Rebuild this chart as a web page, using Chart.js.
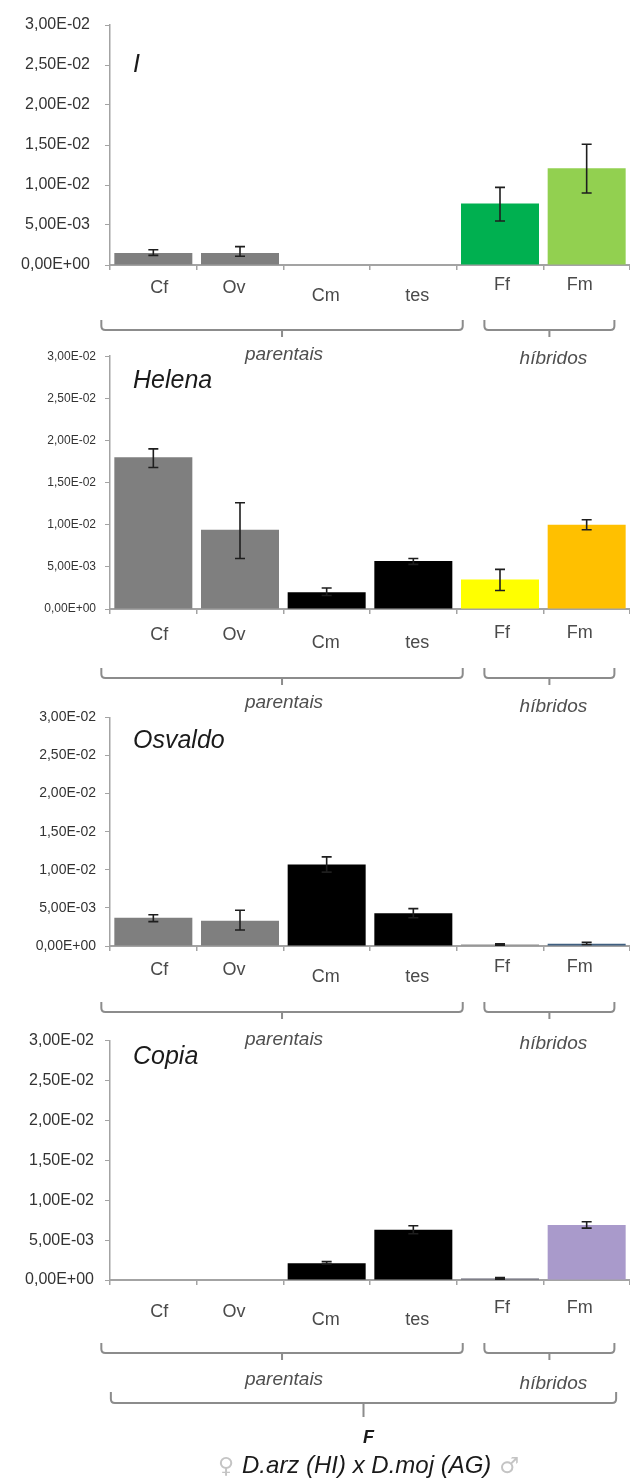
<!DOCTYPE html>
<html>
<head>
<meta charset="utf-8">
<script src="https://cdn.jsdelivr.net/npm/chart.js@4.4.1/dist/chart.umd.min.js"></script>
<style>
  html, body { margin: 0; padding: 0; background: #ffffff; }
  #page { position: relative; width: 630px; height: 1479px; overflow: hidden; background: #ffffff; }
  #page canvas { position: absolute; left: 0; }
</style>
</head>
<body>
<div id="page">
  <canvas id="c1" width="630" height="375" style="top:0px"></canvas>
  <canvas id="c2" width="630" height="380" style="top:340px"></canvas>
  <canvas id="c3" width="630" height="360" style="top:700px"></canvas>
  <canvas id="c4" width="630" height="459" style="top:1020px"></canvas>
</div>
<script>
// Tissues: parental ovary/carcass (Cf, Ov), male carcass/testis (Cm, tes), hybrid females/males (Ff, Fm)
const categories = ['Cf', 'Ov', 'Cm', 'tes', 'Ff', 'Fm'];
const groupLabels = ['parentais', 'híbridos'];
const yTickLabels = ['0,00E+00', '5,00E-03', '1,00E-02', '1,50E-02', '2,00E-02', '2,50E-02', '3,00E-02'];
const crossLabel = 'D.arz (HI) x D.moj (AG)';
const crossTitle = 'F';

// Element I
const iValues   = [0.0015, 0.0015, 0, 0, 0.0077, 0.0121];
const iErrLow   = [0.0012, 0.0011, null, null, 0.0055, 0.0090];
const iErrHigh  = [0.0019, 0.0023, null, null, 0.0097, 0.0151];

// Helena
const helenaValues  = [0.0180, 0.0094, 0.0020, 0.0057, 0.0035, 0.0100];
const helenaErrLow  = [0.0168, 0.0060, 0.0016, 0.0053, 0.0022, 0.0094];
const helenaErrHigh = [0.0190, 0.0126, 0.0025, 0.0060, 0.0047, 0.0106];

// Osvaldo
const osvaldoValues  = [0.0037, 0.0033, 0.0107, 0.0043, 0.0002, 0.0003];
const osvaldoErrLow  = [0.0032, 0.0021, 0.0097, 0.0037, 0.0001, 0.0002];
const osvaldoErrHigh = [0.0041, 0.0047, 0.0117, 0.0049, 0.0003, 0.0005];

// Copia
const copiaValues  = [0, 0, 0.0021, 0.0063, 0.0002, 0.0069];
const copiaErrLow  = [null, null, 0.0020, 0.0058, 0.0001, 0.0065];
const copiaErrHigh = [null, null, 0.0023, 0.0068, 0.0003, 0.0073];

const iColors       = ['#7f7f7f', '#7f7f7f', '#000000', '#000000', '#00b050', '#92d050'];
const helenaColors  = ['#7f7f7f', '#7f7f7f', '#000000', '#000000', '#ffff00', '#ffc000'];
const osvaldoColors = ['#7f7f7f', '#7f7f7f', '#000000', '#000000', '#8c8c8c', '#3f5f80'];
const copiaColors   = ['#7f7f7f', '#7f7f7f', '#000000', '#000000', '#5c5c6c', '#a99acb'];

// Panel layout (canvas offsets in page pixels)
const panels = [
  { id: 'c1', top: 0,    height: 375, areaTop: 25,   zero: 265,  title: 'I',       titleBase: 72,
    values: iValues, low: iErrLow, high: iErrHigh, colors: iColors,
    tickFont: 16, tickPad: 15, labelDy: [23, 23, 31, 31, 20, 20], braceDy: 65, groupDy: 90 },
  { id: 'c2', top: 340,  height: 380, areaTop: 355,  zero: 609,  title: 'Helena',  titleBase: 388,
    values: helenaValues, low: helenaErrLow, high: helenaErrHigh, colors: helenaColors,
    tickFont: 12, tickPad: 9, labelDy: [26, 26, 34, 34, 24, 24], braceDy: 69, groupDy: 94 },
  { id: 'c3', top: 700,  height: 360, areaTop: 713,  zero: 946,  title: 'Osvaldo', titleBase: 748,
    values: osvaldoValues, low: osvaldoErrLow, high: osvaldoErrHigh, colors: osvaldoColors,
    tickFont: 14, tickPad: 9, labelDy: [24, 24, 31, 31, 21, 21], braceDy: 66, groupDy: 94 },
  { id: 'c4', top: 1020, height: 459, areaTop: 1034, zero: 1280, title: 'Copia',   titleBase: 1064,
    values: copiaValues, low: copiaErrLow, high: copiaErrHigh, colors: copiaColors,
    tickFont: 16, tickPad: 11, labelDy: [32, 32, 40, 40, 28, 28], braceDy: 73, groupDy: 100, footer: true }
];

const SANS = '"Liberation Sans", Arial, "DejaVu Sans", sans-serif';
const AXIS_GRAY = '#a3a3a3';
const BRACE_GRAY = '#8c8c8c';
const X_AXIS_H = 6;
const Y_AXIS_W = 110;
const labelDx = [6, -6, -1, 4, 2, -7];

function drawBrace(ctx, x1, x2, y, up, down) {
  const r = 4, xm = (x1 + x2) / 2;
  ctx.beginPath();
  ctx.moveTo(x1, y - up);
  ctx.lineTo(x1, y - r);
  ctx.quadraticCurveTo(x1, y, x1 + r, y);
  ctx.lineTo(x2 - r, y);
  ctx.quadraticCurveTo(x2, y, x2, y - r);
  ctx.lineTo(x2, y - up);
  ctx.moveTo(xm, y);
  ctx.lineTo(xm, y + down);
  ctx.stroke();
}

const decor = {
  id: 'decor',
  afterDatasetsDraw(chart, args, o) {
    const ctx = chart.ctx, ys = chart.scales.y;
    const meta = chart.getDatasetMeta(0);
    ctx.save();
    ctx.strokeStyle = '#1e1e1e';
    ctx.lineWidth = 1.6;
    o.low.forEach((lo, i) => {
      const hi = o.high[i];
      if (lo == null || hi == null) return;
      const cx = meta.data[i].x;
      const y1 = ys.getPixelForValue(hi), y2 = ys.getPixelForValue(lo);
      ctx.beginPath();
      ctx.moveTo(cx, y1); ctx.lineTo(cx, y2);
      ctx.moveTo(cx - 5, y1); ctx.lineTo(cx + 5, y1);
      ctx.moveTo(cx - 5, y2); ctx.lineTo(cx + 5, y2);
      ctx.stroke();
    });
    ctx.restore();
  },
  afterDraw(chart, args, o) {
    const ctx = chart.ctx, xs = chart.scales.x;
    const zero = chart.scales.y.getPixelForValue(0);
    const px = i => xs.getPixelForValue(i);
    const cw = px(1) - px(0);
    ctx.save();

    // Panel title
    ctx.fillStyle = '#1a1a1a';
    ctx.font = 'italic 25px ' + SANS;
    ctx.textAlign = 'left';
    ctx.textBaseline = 'alphabetic';
    ctx.fillText(o.title, 133, o.titleBase);

    // Category labels
    ctx.fillStyle = '#4a4a4a';
    ctx.font = '18px ' + SANS;
    ctx.textAlign = 'center';
    ctx.textBaseline = 'middle';
    categories.forEach((c, i) => ctx.fillText(c, px(i) + labelDx[i], zero + o.labelDy[i]));

    // Group braces
    ctx.strokeStyle = BRACE_GRAY;
    ctx.lineWidth = 2;
    const by = zero + o.braceDy;
    const p1 = px(0) - 0.6 * cw, p2 = px(3) + 0.57 * cw;
    const h1 = px(4) - 0.18 * cw, h2 = px(5) + 0.32 * cw;
    drawBrace(ctx, p1, p2, by, 10, 7);
    drawBrace(ctx, h1, h2, by, 10, 7);

    ctx.fillStyle = '#4f4f4f';
    ctx.font = 'italic 19px ' + SANS;
    ctx.fillText(groupLabels[0], (p1 + p2) / 2 + 2, zero + o.groupDy);
    ctx.fillText(groupLabels[1], (h1 + h2) / 2 + 4, zero + o.groupDy + 4);

    if (o.footer) {
      const f1 = px(0) - 0.49 * cw, f2 = px(5) + 0.34 * cw;
      const fy = zero + 123;
      drawBrace(ctx, f1, f2, fy, 11, 14);
      const fm = (f1 + f2) / 2;

      ctx.fillStyle = '#1a1a1a';
      ctx.font = 'italic bold 18px ' + SANS;
      ctx.textBaseline = 'alphabetic';
      ctx.fillText(crossTitle, fm + 5, fy + 40);

      // ♀ D.arz (HI) x D.moj (AG) ♂
      const mainFont = 'italic 24px ' + SANS;
      const symFont = '22px "DejaVu Sans", sans-serif';
      ctx.font = mainFont;
      const wMain = ctx.measureText(crossLabel).width;
      ctx.font = symFont;
      const wF = ctx.measureText('♀').width, wM = ctx.measureText('♂').width;
      const gap = 8;
      const total = wF + gap + wMain + gap + wM;
      let x0 = fm + 5 - total / 2;
      const base = fy + 70;
      ctx.textAlign = 'left';
      ctx.fillStyle = '#c4c4c4';
      ctx.fillText('♀', x0, base);
      ctx.font = mainFont;
      ctx.fillStyle = '#1a1a1a';
      ctx.fillText(crossLabel, x0 + wF + gap, base);
      ctx.font = symFont;
      ctx.fillStyle = '#c4c4c4';
      ctx.fillText('♂', x0 + wF + gap + wMain + gap, base);
    }
    ctx.restore();
  }
};

panels.forEach(p => {
  const padTop = p.areaTop - p.top;
  const padBottom = p.height - (p.zero - p.top) - X_AXIS_H;
  new Chart(document.getElementById(p.id), {
    type: 'bar',
    data: {
      labels: categories,
      datasets: [{
        data: p.values,
        backgroundColor: p.colors,
        borderWidth: 0,
        barPercentage: 0.9,
        categoryPercentage: 1.0
      }]
    },
    plugins: [decor],
    options: {
      responsive: false,
      animation: false,
      devicePixelRatio: 1,
      layout: { padding: { top: padTop, bottom: padBottom, left: 0, right: 0 } },
      plugins: {
        legend: { display: false },
        tooltip: { enabled: false },
        decor: {
          title: p.title,
          titleBase: p.titleBase - p.top,
          low: p.low,
          high: p.high,
          labelDy: p.labelDy,
          braceDy: p.braceDy,
          groupDy: p.groupDy,
          footer: !!p.footer
        }
      },
      scales: {
        x: {
          afterFit: s => { s.height = X_AXIS_H; },
          ticks: { display: false },
          grid: { display: true, drawOnChartArea: false, tickLength: 5, color: AXIS_GRAY, lineWidth: 1.5, offset: true },
          border: { display: true, color: AXIS_GRAY, width: 2 }
        },
        y: {
          min: 0,
          max: 0.03,
          afterFit: s => { s.width = Y_AXIS_W; },
          ticks: {
            stepSize: 0.005,
            padding: p.tickPad,
            color: '#333333',
            font: { family: SANS, size: p.tickFont },
            callback: v => yTickLabels[Math.round(v / 0.005)]
          },
          grid: { display: true, drawOnChartArea: false, tickLength: 5, color: AXIS_GRAY, lineWidth: 1 },
          border: { display: true, color: AXIS_GRAY, width: 1.5 }
        }
      }
    }
  });
});
</script>
</body>
</html>
